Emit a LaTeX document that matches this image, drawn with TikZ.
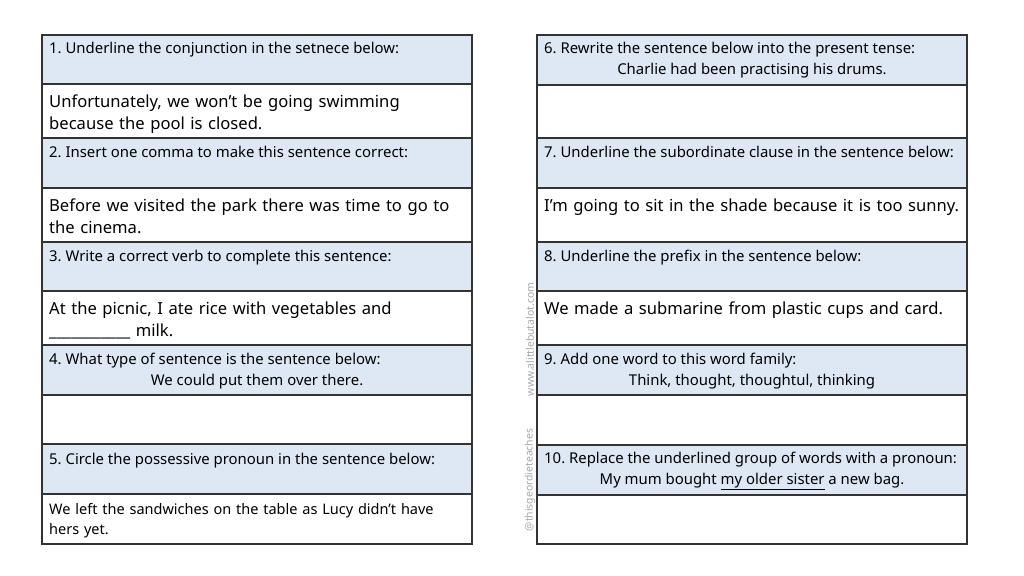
\documentclass[tikz,border=0pt]{standalone}
\usepackage{fontspec}
\setmainfont{Noto Sans}
\usepackage{tikz}
\usetikzlibrary{positioning}
\usepackage{xcolor}

\definecolor{qblue}{HTML}{DEE8F4}
\definecolor{rulegray}{HTML}{333333}
\definecolor{markgray}{HTML}{A8A8A8}

\newcommand{\qsize}{\fontsize{14.9}{20}\selectfont}
\newcommand{\asize}{\fontsize{16.6}{22.7}\selectfont}
\frenchspacing

\begin{document}
\begin{tikzpicture}[x=1pt,y=-1pt,
        qrow/.style={fill=qblue, draw=rulegray, line width=1.1pt},
        arow/.style={fill=white, draw=rulegray, line width=1.1pt},
        qtext/.style={anchor=base west, inner sep=0pt, font=\qsize},
        qline/.style={anchor=base, inner sep=0pt, font=\qsize},
        atext/.style={anchor=base west, inner sep=0pt, font=\asize, text width=420pt, align=left},
        wmark/.style={inner sep=0pt, rotate=90, text=markgray, font=\fontsize{10.4}{12}\selectfont}]
            \useasboundingbox (0,0) rectangle (1024,575);

            % left sheet
            \foreach \top/\bot in {35/84,138/188,242/291,345/395,444/494}
                \draw[qrow] (42,\top) rectangle (472,\bot);
            \foreach \top/\bot in {84/138,188/242,291/345,395/444,494/544}
                \draw[arow] (42,\top) rectangle (472,\bot);

            \node[qtext] (q1) at (49,54) {1. Underline the conjunction in the setnece below:};
            \node[atext] (a1) at (49,107) {Unfortunately, we won’t be going swimming\\because the pool is closed.};
            \node[qtext] (q2) at (49,157) {2. Insert one comma to make this sentence correct:};
            \node[atext] (a2) at (49,211) {Before we visited the park there was time to go to\\the cinema.};
            \node[qtext] (q3) at (49,261) {3. Write a correct verb to complete this sentence:};
            \node[atext] (a3) at (49,314) {At the picnic, I ate rice with vegetables and\\\textunderscore\textunderscore\textunderscore\textunderscore\textunderscore\textunderscore\textunderscore\textunderscore\textunderscore\textunderscore\textunderscore{} milk.};
            \node[qtext] (q4) at (49,364) {4. What type of sentence is the sentence below:};
            \node[qline] (s4) at (257,385.5) {We could put them over there.};
            \node[qtext] (q5) at (49,464) {5. Circle the possessive pronoun in the sentence below:};
            \node[qtext, font=\fontsize{14.5}{20}\selectfont, text width=420pt, align=left] (a5) at (49,514) {We left the sandwiches on the table as Lucy didn’t have\\hers yet.};

            % right sheet
            \foreach \top/\bot in {35/85,138/188,242/291,345/395,445/495}
                \draw[qrow] (537,\top) rectangle (967,\bot);
            \foreach \top/\bot in {85/138,188/242,291/345,395/445,495/544}
                \draw[arow] (537,\top) rectangle (967,\bot);

            \node[qtext] (q6) at (544,54) {6. Rewrite the sentence below into the present tense:};
            \node[qline] (s6) at (752,75) {Charlie had been practising his drums.};
            \node[qtext] (q7) at (544,157) {7. Underline the subordinate clause in the sentence below:};
            \node[atext] (a7) at (544,211) {I’m going to sit in the shade because it is too sunny.};
            \node[qtext] (q8) at (544,261) {8. Underline the prefix in the sentence below:};
            \node[atext] (a8) at (544,314) {We made a submarine from plastic cups and card.};
            \node[qtext] (q9) at (544,364) {9. Add one word to this word family:};
            \node[qline] (s9) at (752,385) {Think, thought, thoughtul, thinking};
            \node[qtext] (q10) at (544,463.5) {10. Replace the underlined group of words with a pronoun:};
            \node[qline] (s10) at (752,484) {My mum bought \underline{my older sister} a new bag.};

            % watermark
            \node[wmark] (site) at (530,339.5) {www.alittlebutalot.com};
            \node[wmark] (handle) at (530,480) {@thisgeordieteaches};
        \end{tikzpicture}
\end{document}
